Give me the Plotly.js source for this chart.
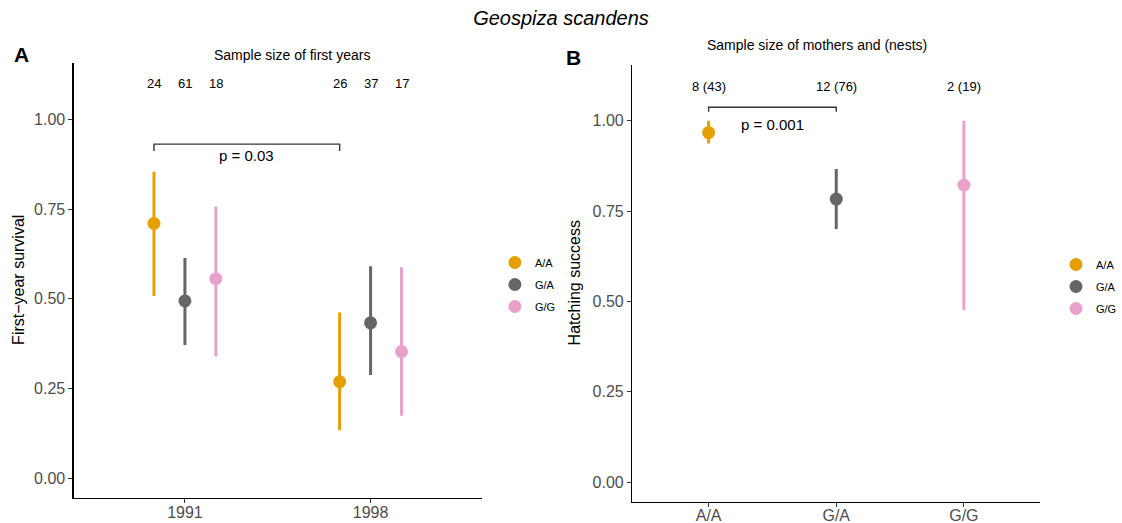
<!DOCTYPE html>
<html><head><meta charset="utf-8">
<script src="https://cdn.plot.ly/plotly-3.0.1.min.js"></script>
<style>html,body{margin:0;padding:0;background:#fff}#chart{width:1122px;height:523px}</style>
</head><body><div id="chart"></div>
<script>
// ---- shared ----
const genotypes = ['A/A', 'G/A', 'G/G'];
const genoColors = ['#E69F00', '#666666', '#E8A2C9'];

// ---- Panel A: first-year survival by year ----
const years = ['1991', '1998'];
const survMean_AA = [0.710, 0.269];
const survLow_AA  = [0.508, 0.134];
const survHigh_AA = [0.854, 0.462];
const survMean_GA = [0.494, 0.433];
const survLow_GA  = [0.371, 0.288];
const survHigh_GA = [0.614, 0.591];
const survMean_GG = [0.556, 0.353];
const survLow_GG  = [0.339, 0.174];
const survHigh_GG = [0.757, 0.588];
const nFirstYears_AA = [24, 26];
const nFirstYears_GA = [61, 37];
const nFirstYears_GG = [18, 17];
const pValueA = 'p = 0.03';

// ---- Panel B: hatching success by genotype ----
const hatchMean = [0.967, 0.783, 0.822];
const hatchLow  = [0.937, 0.700, 0.476];
const hatchHigh = [1.000, 0.866, 1.000];
const nMothers = [8, 12, 2];
const nNests   = [43, 76, 19];
const pValueB = 'p = 0.001';

const yTicks = [0, 0.25, 0.5, 0.75, 1];
const yTickText = ['0.00', '0.25', '0.50', '0.75', '1.00'];

// ---- build ----
const dodge = 0.1667;
const FONT = 'Liberation Sans, Arial, Helvetica, sans-serif';
const meansA = [survMean_AA, survMean_GA, survMean_GG];
const lowsA  = [survLow_AA, survLow_GA, survLow_GG];
const highsA = [survHigh_AA, survHigh_GA, survHigh_GG];
const nA = [nFirstYears_AA, nFirstYears_GA, nFirstYears_GG];

const traces = [];
const annotations = [];

genotypes.forEach((g, k) => {
  const xs = years.map((_, i) => i + (k - 1) * dodge);
  traces.push({
    type: 'scatter', mode: 'markers', name: g,
    x: xs, y: meansA[k], xaxis: 'x', yaxis: 'y',
    marker: {color: genoColors[k], size: 13},
    error_y: {type: 'data', symmetric: false,
      array: meansA[k].map((m, i) => highsA[k][i] - m),
      arrayminus: meansA[k].map((m, i) => m - lowsA[k][i]),
      thickness: 3, width: 0, color: genoColors[k]},
    legend: 'legend', legendgroup: 'A' + g, hoverinfo: 'x+y'
  });
  xs.forEach((x, i) => annotations.push({
    xref: 'x', yref: 'y', x: x, y: 1.10, text: String(nA[k][i]),
    xanchor: 'center', yanchor: 'middle',
    showarrow: false, font: {family: FONT, size: 13, color: '#000'}
  }));
});

genotypes.forEach((g, k) => {
  traces.push({
    type: 'scatter', mode: 'markers', name: g,
    x: [k], y: [hatchMean[k]], xaxis: 'x2', yaxis: 'y2',
    marker: {color: genoColors[k], size: 13},
    error_y: {type: 'data', symmetric: false,
      array: [hatchHigh[k] - hatchMean[k]],
      arrayminus: [hatchMean[k] - hatchLow[k]],
      thickness: 3, width: 0, color: genoColors[k]},
    legend: 'legend2', legendgroup: 'B' + g, hoverinfo: 'x+y'
  });
  annotations.push({
    xref: 'x2', yref: 'y2', x: k, y: 1.094, text: nMothers[k] + ' (' + nNests[k] + ')',
    xanchor: 'center', yanchor: 'middle',
    showarrow: false, font: {family: FONT, size: 13, color: '#000'}
  });
});

// brackets
const bxA1 = 0 - dodge, bxA2 = 1 - dodge;
const bxB1 = 0, bxB2 = 1;
const shapes = [
  {type: 'path', xref: 'x', yref: 'y',
   path: `M ${bxA1},0.912 L ${bxA1},0.931 L ${bxA2},0.931 L ${bxA2},0.912`,
   line: {color: '#333', width: 1.4}},
  {type: 'path', xref: 'x2', yref: 'y2',
   path: `M ${bxB1},1.025 L ${bxB1},1.037 L ${bxB2},1.037 L ${bxB2},1.025`,
   line: {color: '#333', width: 1.4}}
];
annotations.push({xref: 'x', yref: 'y', x: (bxA1 + bxA2) / 2, y: 0.898, text: pValueA,
  xanchor: 'center', yanchor: 'middle',
  showarrow: false, font: {family: FONT, size: 15, color: '#000'}});
annotations.push({xref: 'x2', yref: 'y2', x: 0.5, y: 0.99, text: pValueB,
  xanchor: 'center', yanchor: 'middle',
  showarrow: false, font: {family: FONT, size: 15, color: '#000'}});

// panel texts
const W = 1122, H = 523;
const px = v => v / W, py = v => (H - v) / H;
const paperText = (x, y, text, size, extra) => Object.assign({
  xref: 'paper', yref: 'paper', x: px(x), y: py(y), text: text, showarrow: false,
  xanchor: 'center', yanchor: 'middle', font: {family: FONT, size: size, color: '#000'}
}, extra || {});
annotations.push(
  paperText(22, 55, '<b>A</b>', 21),
  paperText(577, 57, '<b>B</b>', 21),
  paperText(294, 55, 'Sample size of first years', 14),
  paperText(822, 45, 'Sample size of mothers and (nests)', 14),
  paperText(18, 280, 'First\u2212year survival', 16, {textangle: -90}),
  paperText(578, 283, 'Hatching success', 16, {textangle: -90})
);

const axisCommon = {
  showline: true, linecolor: '#000', linewidth: 1.1, showgrid: false, zeroline: false,
  ticks: 'outside', ticklen: 4, tickcolor: '#333', tickwidth: 1,
  tickfont: {family: FONT, size: 16, color: '#4D4D4D'}, fixedrange: true
};

const layout = {
  width: W, height: H, margin: {l: 0, r: 0, t: 0, b: 0},
  paper_bgcolor: '#fff', plot_bgcolor: '#fff',
  title: {text: '<i>Geospiza scandens</i>', x: 0.5, xanchor: 'center', y: py(18), yanchor: 'middle',
    font: {family: FONT, size: 20, color: '#000'}},
  xaxis: Object.assign({}, axisCommon, {domain: [px(74), px(485)], range: [-0.6, 1.6],
    tickvals: years.map((_, i) => i), ticktext: years, anchor: 'y', ticklabelstandoff: -4}),
  yaxis: Object.assign({}, axisCommon, {domain: [(H - 498) / H, (H - 63) / H], range: [-0.055, 1.157],
    tickvals: yTicks, ticktext: yTickText, anchor: 'x'}),
  xaxis2: Object.assign({}, axisCommon, {domain: [px(636), px(1047)], range: [-0.6, 2.6],
    tickvals: genotypes.map((_, i) => i), ticktext: genotypes, anchor: 'y2', ticklabelstandoff: -5}),
  yaxis2: Object.assign({}, axisCommon, {domain: [(H - 502) / H, (H - 65) / H], range: [-0.055, 1.154],
    tickvals: yTicks, ticktext: yTickText, anchor: 'x2'}),
  legend: {x: px(498), y: py(248), xanchor: 'left', yanchor: 'top', bgcolor: 'rgba(0,0,0,0)',
    font: {family: FONT, size: 11, color: '#000'}, tracegroupgap: 3, itemclick: false},
  legend2: {x: px(1063), y: py(250), xanchor: 'left', yanchor: 'top', bgcolor: 'rgba(0,0,0,0)',
    font: {family: FONT, size: 11, color: '#000'}, tracegroupgap: 3, itemclick: false},
  showlegend: true,
  shapes: shapes,
  annotations: annotations
};

Plotly.newPlot('chart', traces, layout, {displayModeBar: false, staticPlot: true});
</script>
</body></html>
